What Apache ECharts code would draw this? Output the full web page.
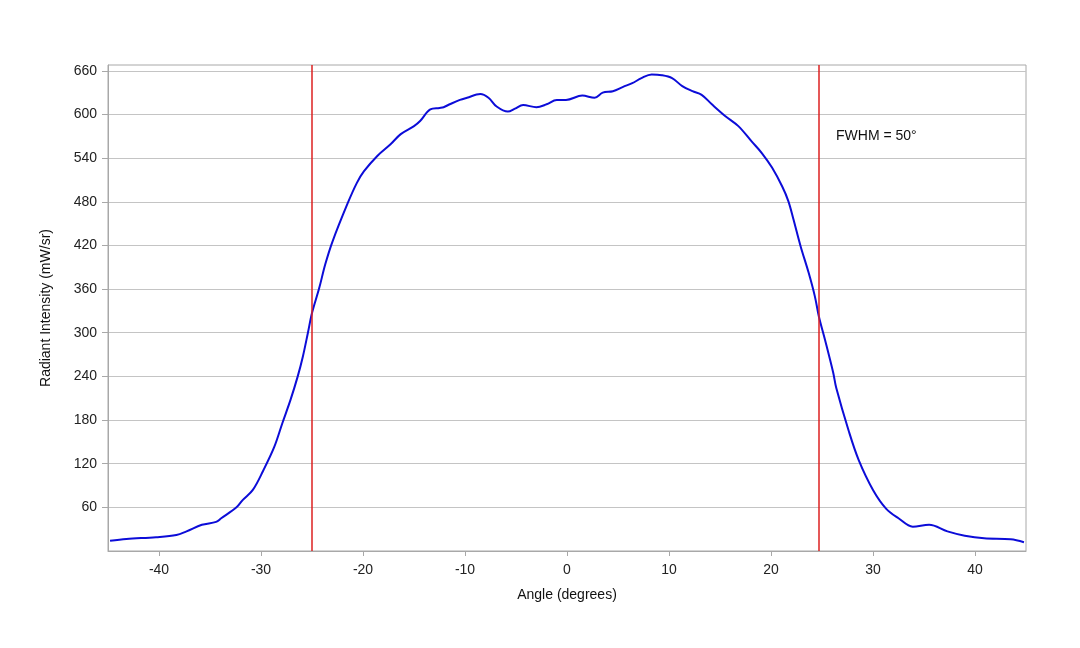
<!DOCTYPE html>
<html>
<head>
<meta charset="utf-8">
<script src="https://cdn.jsdelivr.net/npm/echarts@6/dist/echarts.min.js"></script>
<style>
  html, body { margin: 0; padding: 0; background: #fff; }
  #main { width: 1080px; height: 648px; }
</style>
</head>
<body>
<div id="main"></div>
<script>
var angles = [
  -44.8, -43.2, -40.3, -38.3, -37.3, -35.8, -34.4, -33.9, -32.4, -31.8,
  -30.8, -29.8, -28.7, -27.9, -27.1, -26.4, -25.9, -25.4, -25.0,
  -24.3, -23.7, -23.0, -21.5, -20.6, -19.9, -18.6, -17.3, -16.3,
  -15.0, -14.4, -13.4, -12.5, -12.1, -11.5, -10.5, -9.8, -8.5, -7.7,
  -6.9, -5.8, -5.1, -4.3, -3.0, -2.0, -1.0, -0.1, 1.5, 2.7,
  3.5, 4.5, 5.5, 6.4, 7.3, 8.3, 9.3, 10.3, 11.3, 12.3,
  13.2, 14.2, 15.5, 16.8, 18.1, 19.1, 20.1, 21.1, 21.7, 22.2,
  22.9, 23.7, 24.3, 24.7, 25.3, 26.1, 26.4, 27.6, 28.6, 30.0,
  31.3, 32.5, 33.9, 35.5, 37.3, 39.0, 40.9, 43.5, 44.8
];
var intensity = [
  14, 16.5, 19, 22, 27, 36, 40, 45, 60, 70,
  84, 110, 143, 176, 208, 240, 267, 300, 327,
  361, 394, 425, 478, 506, 522, 543, 559, 573,
  584, 591, 607, 609, 610, 614, 620, 623, 628, 623,
  611, 604, 608, 613, 610, 614, 620, 620, 626, 623,
  630, 632, 638, 643, 650, 655, 654, 650, 639, 632,
  627, 614, 598, 584, 563, 547, 527, 501, 481, 456,
  419, 382, 350, 322, 290, 245, 224, 166, 125, 84,
  58, 45, 33.5, 36, 27, 21, 17.4, 16, 12
];
var xTicks = [-40, -30, -20, -10, 0, 10, 20, 30, 40];
var yTicks = [60, 120, 180, 240, 300, 360, 420, 480, 540, 600, 660];
var fwhmLines = [-25, 24.7];
var fwhmText = 'FWHM = 50°';

var chart = echarts.init(document.getElementById('main'));
var font = 'Liberation Sans, Arial, sans-serif';

var option = {
  animation: false,
  grid: {
    left: 108, right: 54, top: 65, bottom: 97,
    show: true, borderColor: '#a8a8a8', borderWidth: 1, backgroundColor: '#fff'
  },
  xAxis: {
    type: 'value',
    min: -45, max: 45,
    name: 'Angle (degrees)',
    nameLocation: 'middle',
    nameGap: 37,
    nameTextStyle: { fontFamily: font, fontSize: 14, color: '#111' },
    axisLine: { show: true, onZero: false, lineStyle: { color: '#a8a8a8' } },
    axisTick: { show: true, customValues: xTicks, length: 5, lineStyle: { color: '#a8a8a8' } },
    axisLabel: { customValues: xTicks, fontFamily: font, fontSize: 14, color: '#222', margin: 12 },
    splitLine: { show: false }
  },
  yAxis: {
    type: 'value',
    min: 0, max: 668, interval: 60,
    name: 'Radiant Intensity (mW/sr)',
    nameLocation: 'middle',
    nameGap: 55,
    nameTextStyle: { fontFamily: font, fontSize: 14, color: '#111' },
    axisLine: { show: true, onZero: false, lineStyle: { color: '#a8a8a8' } },
    axisTick: { show: true, customValues: yTicks, length: 6, lineStyle: { color: '#a8a8a8' } },
    axisLabel: { customValues: yTicks, fontFamily: font, fontSize: 14, color: '#222', margin: 11 },
    splitLine: { show: true, lineStyle: { color: '#c4c4c4', width: 1 } }
  },
  graphic: [{
    type: 'text',
    left: 836, top: 129,
    style: { text: fwhmText, fontFamily: font, fontSize: 14, fill: '#111' }
  }],
  series: [{
    type: 'line',
    data: angles.map(function (a, i) { return [a, intensity[i]]; }),
    smooth: 0.35,
    showSymbol: false,
    lineStyle: { color: '#0c0cd8', width: 2 },
    markLine: {
      silent: true,
      symbol: 'none',
      label: { show: false },
      lineStyle: { color: '#dd2020', width: 1.5, type: 'solid' },
      data: fwhmLines.map(function (v) { return { xAxis: v }; })
    }
  }]
};

chart.setOption(option);
</script>
</body>
</html>
